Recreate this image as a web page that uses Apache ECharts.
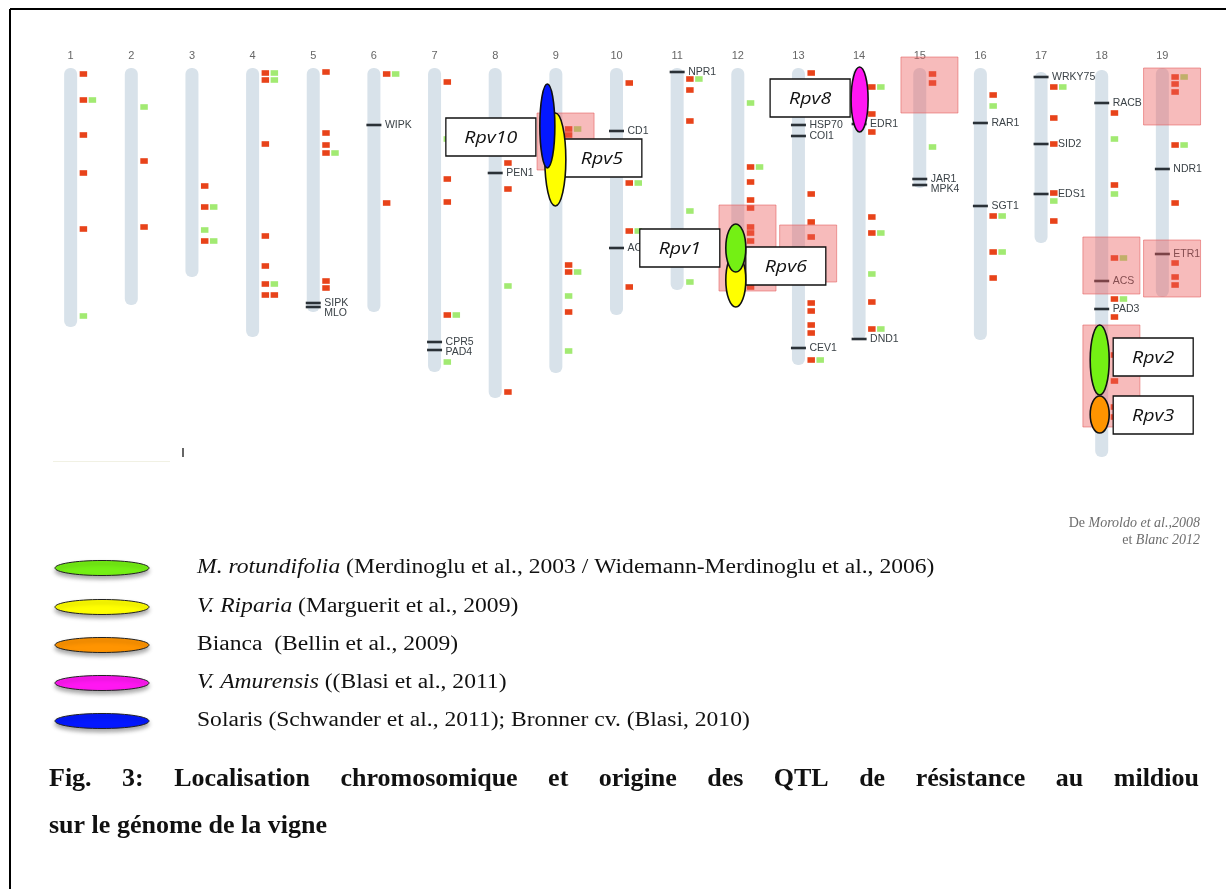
<!DOCTYPE html>
<html><head><meta charset="utf-8">
<script src="https://cdn.jsdelivr.net/npm/echarts/dist/echarts.min.js"></script>
<style>html,body{margin:0;padding:0;background:#fff;}#main{width:1226px;height:889px;}</style>
</head><body><div id="main"></div>
<script>
// ---- DATA (positions along chromosomes in map units, 0 = top of chromosome) ----
const chromosomeIds = [1,2,3,4,5,6,7,8,9,10,11,12,13,14,15,16,17,18,19];
const chromosomeTop = [0,0,0,0,0,0,0,0,0,0,0,0,0,0,0,0,4,2,0];
const chromosomeEnd = [259,237,209,269,244,244,304,330,305,247,222,232,297,272,120,272,175,389,229];

// red markers: [chromosome, position, column]
const redMarkers = [
 [1,6,0],[1,32,0],[1,67,0],[1,105,0],[1,161,0],
 [2,93,0],[2,159,0],
 [3,118,0],[3,139,0],[3,173,0],
 [4,5,0],[4,12,0],[4,76,0],[4,168,0],[4,198,0],[4,216,0],[4,227,0],[4,227,1],
 [5,4,0],[5,65,0],[5,77,0],[5,85,0],[5,213,0],[5,220,0],
 [6,6,0],[6,135,0],
 [7,14,0],[7,111,0],[7,134,0],[7,247,0],
 [8,95,0],[8,121,0],[8,324,0],
 [9,61,0],[9,67,0],[9,197,0],[9,204,0],[9,244,0],
 [10,15,0],[10,115,0],[10,163,0],[10,219,0],
 [11,11,0],[11,22,0],[11,53,0],
 [12,99,0],[12,114,0],[12,132,0],[12,140,0],[12,159,0],[12,165,0],[12,173,0],[12,219,0],
 [13,5,0],[13,126,0],[13,154,0],[13,169,0],[13,235,0],[13,243,0],[13,257,0],[13,265,0],[13,292,0],
 [14,19,0],[14,46,0],[14,64,0],[14,149,0],[14,165,0],[14,234,0],[14,261,0],
 [15,6,0],[15,15,0],
 [16,27,0],[16,148,0],[16,184,0],[16,210,0],
 [17,19,0],[17,50,0],[17,76,0],[17,125,0],[17,153,0],
 [18,45,0],[18,117,0],[18,190,0],[18,231,0],[18,249,0],[18,287,0],[18,313,0],[18,339,0],[18,349,0],
 [19,9,0],[19,16,0],[19,24,0],[19,77,0],[19,135,0],[19,195,0],[19,209,0],[19,217,0]
];
// green markers: [chromosome, position, column]
const greenMarkers = [
 [1,32,1],[1,248,0],
 [2,39,0],
 [3,139,1],[3,162,0],[3,173,1],
 [4,5,1],[4,12,1],[4,216,1],
 [5,85,1],
 [6,6,1],
 [7,71,0],[7,247,1],[7,294,0],
 [8,218,0],
 [9,61,1],[9,204,1],[9,228,0],[9,283,0],
 [10,115,1],[10,163,1],
 [11,11,1],[11,143,0],[11,214,0],
 [12,35,0],[12,99,1],
 [13,292,1],
 [14,19,1],[14,165,1],[14,206,0],[14,261,1],
 [15,79,0],
 [16,38,0],[16,148,1],[16,184,1],
 [17,19,1],[17,133,0],
 [18,71,0],[18,126,0],[18,190,1],[18,231,1],
 [19,9,1],[19,77,1]
];
// candidate genes: chromosome, position, name
const geneChr  = [5,5,6,7,7,8,10,10,11,13,13,13,14,14,15,15,16,16,17,17,17,18,18,18,19,19];
const genePos  = [235,239,57,274,282,105,63,180,4,57,68,280,56,271,111,117,55,138,9,76,126,35,213,241,101,186];
const geneName = ['SIPK','MLO','WIPK','CPR5','PAD4','PEN1','CD1','AC','NPR1','HSP70','COI1','CEV1','EDR1','DND1','JAR1','MPK4','RAR1','SGT1','WRKY75','SID2','EDS1','RACB','ACS','PAD3','NDR1','ETR1'];

// highlighted regions: [chromosome, start, end]
const regions = [[9,45,102],[12,137,223],[13,157,214],[15,-11,45],[18,169,226],[18,257,359],[19,0,57],[19,172,229]];

// resistance QTLs
const qtlNames  = ['Rpv5','Rpv10','Rpv6','Rpv1','Rpv8','Rpv2','Rpv3'];
const qtlChr    = [9,9,12,12,14,18,18];
const qtlStart  = [45,16,185,156,-1,257,328];
const qtlEnd    = [138,100,239,204,64,327,365];
const qtlOrigin = [1,4,1,0,3,0,2];
const qtlLabelSide = ['right','left','right','left','left','right','right'];
const qtlLabelPos  = [90,69,198,180,30,289,347];

// origins (legend)
const originNames = ['M. rotundifolia','V. Riparia','Bianca','V. Amurensis','Solaris'];
const originRefs  = [' (Merdinoglu et al., 2003 / Widemann-Merdinoglu et al., 2006)',' (Marguerit et al., 2009)','  (Bellin et al., 2009)',' ((Blasi et al., 2011)',' (Schwander et al., 2011); Bronner cv. (Blasi, 2010)'];
const originItalic = [true,true,false,true,false];

// ---- STYLE ----
const originColors = ['#74f014','#ffff00','#ff9400','#ff17f2','#0418ff'];
const qtlLayout = {
  Rpv5:{dx:-0.5,rx:10.5,gap:-4}, Rpv10:{dx:-8.5,rx:7.5,gap:4}, Rpv6:{dx:-2,rx:10,gap:0},
  Rpv1:{dx:-2,rx:10,gap:6}, Rpv8:{dx:0.5,rx:8.5,gap:1}, Rpv2:{dx:-2,rx:9.5,gap:4}, Rpv3:{dx:-2,rx:9.5,gap:4}
};
const RED = '#e8431a', GREEN = '#a2ea72';

const chart = echarts.init(document.getElementById('main'), null, {renderer:'canvas'});

const chromData = chromosomeIds.map((c,i)=>[c, chromosomeTop[i], chromosomeEnd[i]]);
const geneData = geneChr.map((c,i)=>[c, genePos[i]]);
// label offsets: stacked genes shift down, marker on same row shifts right
const geneLabelY = [], geneLabelDx = [];
geneChr.forEach((c,i)=>{
  let y = genePos[i];
  if (i>0 && geneChr[i-1]===c && genePos[i]-genePos[i-1] < 9) y = geneLabelY[i-1] + 10;
  geneLabelY.push(y);
  const hit = redMarkers.some(m=>m[0]===c && m[2]===0 && Math.abs(m[1]-genePos[i])<=3);
  geneLabelDx.push(hit ? 17 : 11);
});
const qtlData = qtlNames.map((n,i)=>[qtlChr[i], qtlStart[i], qtlEnd[i]]);

function markerSeries(data, color){
  return {type:'custom', z:3, data, silent:true,
    renderItem(params, api){
      const p = api.coord([api.value(0), api.value(1)]);
      const col = api.value(2);
      return {type:'rect', shape:{x:p[0]+9+col*9, y:p[1]-2.8, width:7.5, height:5.6}, style:{fill:color}};
    }};
}

// legend & captions (graphic)
const graphics = [];
graphics.push({type:'line', shape:{x1:10,y1:9,x2:1226,y2:9}, style:{stroke:'#000', lineWidth:2}});
graphics.push({type:'line', shape:{x1:10,y1:9,x2:10,y2:889}, style:{stroke:'#000', lineWidth:2}});
graphics.push({type:'line', shape:{x1:53,y1:461.5,x2:170,y2:461.5}, style:{stroke:'#f1f1e4', lineWidth:1}});
graphics.push({type:'line', shape:{x1:183,y1:448,x2:183,y2:457}, style:{stroke:'#333', lineWidth:1.5}});
const legendY = [568,607,645,683,721];
originNames.forEach((n,i)=>{
  graphics.push({type:'ellipse', shape:{cx:102, cy:legendY[i], rx:47, ry:7.5},
    style:{fill:originColors[i], stroke:'#222', lineWidth:1, shadowBlur:4, shadowOffsetY:3, shadowColor:'rgba(0,0,0,0.35)'}});
  graphics.push({type:'text', x:197, y:legendY[i], scaleX:1.15, style:{
    text:'{a|'+n+'}{b|'+originRefs[i]+'}',
    rich:{a:{fontFamily:'Liberation Serif', fontSize:20.5, fontStyle: originItalic[i]?'italic':'normal', fill:'#111'},
          b:{fontFamily:'Liberation Serif', fontSize:20.5, fill:'#111'}},
    verticalAlign:'middle', align:'left'}});
});
graphics.push({type:'text', x:1200, y:523, style:{text:'{a|De }{b|Moroldo et al.,2008}',
  rich:{a:{fontFamily:'Liberation Serif',fontSize:14,fill:'#6d6d6d'},b:{fontFamily:'Liberation Serif',fontSize:14,fontStyle:'italic',fill:'#6d6d6d'}},
  align:'right', verticalAlign:'middle'}});
graphics.push({type:'text', x:1200, y:540, style:{text:'{a|et }{b|Blanc 2012}',
  rich:{a:{fontFamily:'Liberation Serif',fontSize:14,fill:'#6d6d6d'},b:{fontFamily:'Liberation Serif',fontSize:14,fontStyle:'italic',fill:'#6d6d6d'}},
  align:'right', verticalAlign:'middle'}});
// justified caption first line
const capFont = {fontFamily:'Liberation Serif', fontWeight:'bold', fontSize:26};
const cap1 = 'Fig. 3: Localisation chromosomique et origine des QTL de résistance au mildiou'.split(' ');
const ctx = document.createElement('canvas').getContext('2d');
ctx.font = 'bold 26px "Liberation Serif"';
const widths = cap1.map(w=>ctx.measureText(w).width);
const totalW = widths.reduce((a,b)=>a+b,0);
const gapW = (1199-49-totalW)/(cap1.length-1);
let cx0 = 49;
cap1.forEach((w,i)=>{
  graphics.push({type:'text', x:cx0, y:779, style:Object.assign({text:w, fill:'#111', align:'left', verticalAlign:'middle'}, capFont)});
  cx0 += widths[i] + gapW;
});
graphics.push({type:'text', x:49, y:826, style:Object.assign({text:'sur le génome de la vigne', fill:'#111', align:'left', verticalAlign:'middle'}, capFont)});

const option = {
  animation:false,
  backgroundColor:'#fff',
  grid:{left:10, right:0, top:68, height:400},
  xAxis:{type:'value', min:0, max:20, interval:1, position:'top',
    axisLine:{show:false}, axisTick:{show:false}, splitLine:{show:false},
    axisLabel:{margin:7, color:'#666', fontSize:11, fontFamily:'Liberation Sans',
      formatter:v=> (v>=1 && v<=19) ? String(v) : ''}},
  yAxis:{type:'value', min:0, max:400, inverse:true, show:false},
  graphic:graphics,
  series:[
    {type:'custom', z:1, silent:true, data:chromData,
      renderItem(params, api){
        const c = api.value(0);
        const a = api.coord([c, api.value(1)]), b = api.coord([c, api.value(2)]);
        return {type:'rect', shape:{x:a[0]-6.5, y:a[1], width:13, height:b[1]-a[1], r:6}, style:{fill:'#d8e2ea'}};
      }},
    {type:'custom', z:2, silent:true, data:geneData,
      renderItem(params, api){
        const p = api.coord([api.value(0), api.value(1)]);
        return {type:'line', shape:{x1:p[0]-7.5, y1:p[1], x2:p[0]+7.5, y2:p[1]}, style:{stroke:'#2a3137', lineWidth:2.6}};
      }},
    markerSeries(redMarkers, RED),
    markerSeries(greenMarkers, GREEN),
    {type:'custom', z:4, silent:true, data:geneData,
      renderItem(params, api){
        const i = params.dataIndex;
        const p = api.coord([api.value(0), geneLabelY[i]]);
        return {type:'text', x:p[0]+geneLabelDx[i], y:p[1]+0.5, style:{text:geneName[i], fontFamily:'Liberation Sans', fontSize:10.5, fill:'#3b4247', align:'left', verticalAlign:'middle'}};
      }},
    {type:'custom', z:5, silent:true, data:regions,
      renderItem(params, api){
        const c = api.value(0);
        const a = api.coord([c-0.31, api.value(1)]), b = api.coord([c+0.63, api.value(2)]);
        return {type:'rect', shape:{x:a[0], y:a[1], width:b[0]-a[0], height:b[1]-a[1]}, style:{fill:'rgba(236,92,92,0.42)', stroke:'rgba(226,90,90,0.55)', lineWidth:1}};
      }},
    {type:'custom', z:6, silent:true, data:qtlData,
      renderItem(params, api){
        const i = params.dataIndex, name = qtlNames[i], L = qtlLayout[name];
        const c = api.value(0);
        const top = api.coord([c, api.value(1)]);
        const cx = top[0] + L.dx;
        const lab = api.coord([c, qtlLabelPos[i]]);
        const w = 80 + (name.length-4)*10, h = 38;
        const bx = qtlLabelSide[i]==='left' ? cx - L.rx - L.gap - w : cx + L.rx + L.gap;
        return {type:'group', children:[
          {type:'rect', shape:{x:bx, y:lab[1]-h/2, width:w, height:h}, style:{fill:'#fff', stroke:'#111', lineWidth:1.3}},
          {type:'text', x:bx+w/2, y:lab[1]+1, scaleX:1.15, style:{text:name, fontFamily:'Open Sans', fontStyle:'italic', fontSize:17, fill:'#111', align:'center', verticalAlign:'middle'}}
        ]};
      }},
    {type:'custom', z:7, silent:true, data:qtlData,
      renderItem(params, api){
        const i = params.dataIndex, L = qtlLayout[qtlNames[i]];
        const c = api.value(0);
        const a = api.coord([c, api.value(1)]), b = api.coord([c, api.value(2)]);
        return {type:'ellipse', shape:{cx:a[0]+L.dx, cy:(a[1]+b[1])/2, rx:L.rx, ry:(b[1]-a[1])/2},
          style:{fill:originColors[qtlOrigin[i]], stroke:'#111', lineWidth:1.6}};
      }}
  ]
};
chart.setOption(option);
</script>
</body></html>
